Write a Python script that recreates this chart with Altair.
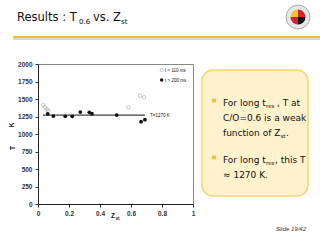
import altair as alt
import pandas as pd

# ---- data ----
OPEN_Z = [0.034, 0.045, 0.056, 0.066, 0.583, 0.658, 0.684]
OPEN_T = [1414, 1381, 1353, 1333, 1381, 1547, 1524]
FILLED_Z = [0.063, 0.099, 0.176, 0.221, 0.273, 0.331, 0.348, 0.508, 0.665, 0.69]
FILLED_T = [1286, 1257, 1253, 1253, 1314, 1310, 1290, 1271, 1176, 1204]
LINE_Z = [0.032, 0.69]
LINE_T = [1270, 1270]
X_TICKS = [0, 0.2, 0.4, 0.6, 0.8, 1]
Y_TICKS = [0, 250, 500, 750, 1000, 1250, 1500, 1750, 2000]

# plot area placement on the 320x240 slide
L, T, W, H = 38, 64, 155, 140

pts = pd.DataFrame({
    "z": OPEN_Z + FILLED_Z,
    "t": OPEN_T + FILLED_T,
    "s": ["open"] * len(OPEN_Z) + ["filled"] * len(FILLED_Z),
})
line_df = pd.DataFrame({"z": LINE_Z, "t": LINE_T})
one = pd.DataFrame({"k": [0]})

xs = alt.Scale(domain=[0, 1], nice=False)
ys = alt.Scale(domain=[0, 2000], nice=False)
xenc = alt.X("z:Q", scale=xs, axis=alt.Axis(values=X_TICKS, format="~g", title=None,
             grid=False, labelFont="Liberation Sans", labelFontSize=6.5, labelFontWeight="bold",
             labelColor="#333", tickSize=3, tickColor="#333", domainColor="#222",
             labelPadding=3, labelFlush=False))
yenc = alt.Y("t:Q", scale=ys, axis=alt.Axis(values=Y_TICKS, format="d", title=None, grid=False,
             labelFont="Liberation Sans", labelFontSize=6.5, labelFontWeight="bold",
             labelColor="#333", tickSize=3, tickColor="#333", domainColor="#222",
             labelPadding=3))

FONT = "DejaVu Sans"


def txt(s, X, Y, size, font=FONT, color="#111", align="left", baseline="alphabetic", **kw):
    return alt.Chart(one).mark_text(text=s, font=font, fontSize=size, color=color,
                                    align=align, baseline=baseline, **kw).encode(
        x=alt.value(X - L), y=alt.value(Y - T))


layers = []

# bullet box
layers.append(alt.Chart(one).mark_rect(fill="#FFF2CC", stroke="#F8D374", strokeWidth=1.5,
                                       cornerRadius=11).encode(
    x=alt.value(202 - L), x2=alt.value(308 - L), y=alt.value(70 - T), y2=alt.value(196 - T)))

# gold line under title
layers.append(alt.Chart(one).mark_rule(color="#C8C8C8", strokeWidth=1.5).encode(
    x=alt.value(13 - L), x2=alt.value(320 - L), y=alt.value(39 - T)))
layers.append(alt.Chart(one).mark_rule(color="#F2C12E", strokeWidth=2).encode(
    x=alt.value(13 - L), x2=alt.value(320 - L), y=alt.value(37 - T)))

# logo (simplified seal)
cx, cy = 298 - L, 17 - T
layers.append(alt.Chart(one).mark_arc(fill="#E6E6E6", stroke="#999", strokeWidth=0.8).encode(
    x=alt.value(cx), y=alt.value(cy), theta=alt.value(0), theta2=alt.value(6.2832),
    radius=alt.value(12)))
quad = [("#F2C12E", 4.7124, 6.2832), ("#D2232A", 0, 1.5708), ("#111111", 1.5708, 3.1416),
        ("#D2232A", 3.1416, 4.7124)]
for col, a0, a1 in quad:
    layers.append(alt.Chart(one).mark_arc(fill=col).encode(
        x=alt.value(cx), y=alt.value(cy), theta=alt.value(a0), theta2=alt.value(a1),
        radius=alt.value(7.5)))

# title
layers.append(txt("Results : T", 17, 21, 11.5))
layers.append(txt("0.6", 79, 23.5, 7))
layers.append(txt("vs. Z", 93, 21, 11.5))
layers.append(txt("st", 121, 23.5, 7))

# bullets
for by in (103, 160):
    layers.append(alt.Chart(one).mark_square(color="#F5BE2E", size=14, opacity=1).encode(
        x=alt.value(214 - L), y=alt.value(by - 2.5 - T)))
fs = 9
layers.append(txt("For long t", 223, 106, fs))
layers.append(txt("res", 266, 108, 5.5))
layers.append(txt(", T at", 277, 106, fs))
layers.append(txt("C/O=0.6 is a weak", 223, 121, fs))
layers.append(txt("function of Z", 223, 136, fs))
layers.append(txt("st", 280.5, 138, 5.5))
layers.append(txt(".", 286, 136, fs))
layers.append(txt("For long t", 223, 163, fs))
layers.append(txt("res", 266, 165, 5.5))
layers.append(txt(", this T", 275, 163, fs))
layers.append(txt("≈ 1270 K.", 223, 178, fs))

# slide number
layers.append(txt("Slide 19/42", 306, 231, 6, font="Liberation Sans", color="#333",
                  align="right", fontStyle="italic"))

# axis titles
layers.append(txt("Z", 111, 218, 6.5, font="Liberation Sans", fontWeight="bold"))
layers.append(txt("st", 115.5, 219.5, 4.5, font="Liberation Sans", fontWeight="bold"))
layers.append(txt("K", 12, 125, 6.5, font="Liberation Sans", fontWeight="bold",
                  align="center", baseline="middle", angle=270))
layers.append(txt("T", 13, 148, 6.5, font="Liberation Sans", fontWeight="bold",
                  align="center", baseline="middle", angle=270))

# legend
layers.append(alt.Chart(one).mark_point(shape="circle", filled=False, color="#999",
                                        size=10, strokeWidth=0.8).encode(
    x=alt.value(161.7 - L), y=alt.value(70 - T)))
layers.append(alt.Chart(one).mark_circle(color="#111", size=12, opacity=1).encode(
    x=alt.value(161.7 - L), y=alt.value(80 - T)))
layers.append(txt("t < 110 ms", 165, 71.5, 4.5, font="Liberation Sans", baseline="alphabetic"))
layers.append(txt("t > 200 ms", 165, 81.5, 4.5, font="Liberation Sans", baseline="alphabetic"))

# data
layers.append(alt.Chart(line_df).mark_line(color="#111", strokeWidth=1).encode(x=xenc, y=yenc))
layers.append(alt.Chart(pts).transform_filter(alt.datum.s == "open").mark_point(
    shape="circle", filled=False, color="#999", size=12, strokeWidth=0.8).encode(x=xenc, y=yenc))
layers.append(alt.Chart(pts).transform_filter(alt.datum.s == "filled").mark_circle(
    color="#111", size=14, opacity=1).encode(x=xenc, y=yenc))
layers.append(alt.Chart(one).mark_text(text="T=1270 K", font="Liberation Sans", fontSize=4.5,
                                       align="left", baseline="middle", color="#111").encode(
    x=alt.value(150 - L), y=alt.value(115.5 - T)))

chart = alt.layer(*layers).properties(
    width=W, height=H,
    padding={"left": L, "top": T, "right": 320 - L - W, "bottom": 240 - T - H},
    autosize=alt.AutoSizeParams(type="none"),
    background="white",
).configure_view(stroke="#888", strokeWidth=1)

chart.save("out.html", embed_options={"renderer": "svg", "actions": False})
